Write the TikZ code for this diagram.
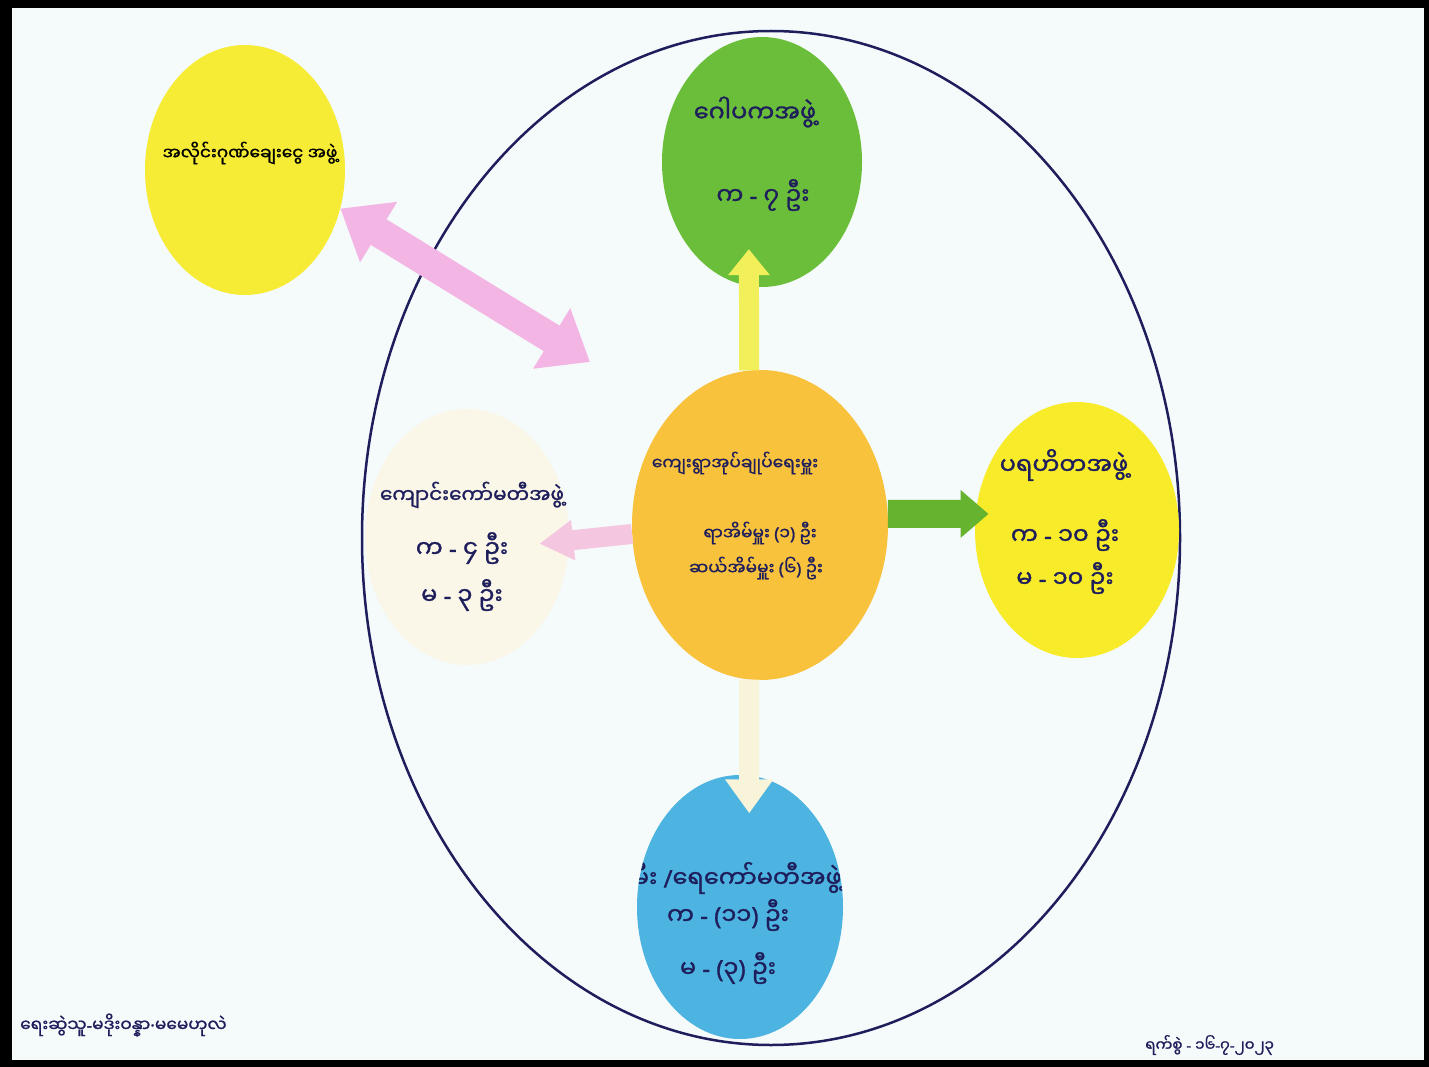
\documentclass[tikz,border=0pt]{standalone}
\usepackage{fontspec}
\newfontfamily\mya[Script=Myanmar,FakeBold=1.2]{Noto Sans Myanmar UI}
\newfontfamily\latfont[FakeBold=1.2]{Noto Sans}
\newcommand\lt[1]{{\latfont #1}}
\usetikzlibrary{arrows.meta,shapes.geometric}
\definecolor{paper}{HTML}{F5FAFB}
\definecolor{ink}{HTML}{1E1E5C}
\definecolor{cyel}{HTML}{F7EC35}
\definecolor{cgrn}{HTML}{6BBE3A}
\definecolor{corg}{HTML}{F8C23C}
\definecolor{cwht}{HTML}{FAF7E8}
\definecolor{ryel}{HTML}{F8EC2A}
\definecolor{cblu}{HTML}{4DB3E0}
\definecolor{apink}{HTML}{F3B5E4}
\definecolor{lpink}{HTML}{F5C6DF}
\definecolor{ayel}{HTML}{F2F05A}
\definecolor{agrn}{HTML}{66B32F}
\definecolor{acrm}{HTML}{F8F4DA}
\tikzset{
  blob/.style={ellipse, inner sep=0pt, draw=none},
  big/.style={text=ink, font=\mya\fontsize{24}{28}\selectfont, inner sep=0pt},
  mid/.style={text=ink, font=\mya\fontsize{20}{24}\selectfont, inner sep=0pt},
  small/.style={text=ink, font=\mya\fontsize{17}{20}\selectfont, inner sep=0pt},
  foot/.style={text=ink, font=\mya\fontsize{17}{20}\selectfont, inner sep=0pt}
}
\begin{document}
\begin{tikzpicture}[x=1pt,y=-1pt]
\fill[black] (0,0) rectangle (1429,1067);
\fill[paper] (12,8) rectangle (1424,1060);
\useasboundingbox (0,0) rectangle (1429,1067);

% outer ring
\node[ellipse, draw=ink, line width=2.5pt, minimum width=818pt, minimum height=1014pt, inner sep=0pt] (ring) at (771,538) {};

% circles
\node[blob, fill=cyel, minimum width=200pt, minimum height=250pt] (credit) at (245,170) {};
\node[blob, fill=cgrn, minimum width=200pt, minimum height=250pt] (gawpaka) at (762,162) {};
\node[blob, fill=corg, minimum width=256pt, minimum height=310pt] (admin) at (760,525) {};
\node[blob, fill=cwht, minimum width=204pt, minimum height=256pt] (school) at (467,537) {};
\node[blob, fill=ryel, minimum width=204pt, minimum height=256pt] (charity) at (1077,530) {};
\node[blob, fill=cblu, minimum width=206pt, minimum height=264pt] (water) at (740,907) {};

% arrows
\coordinate (pinkend) at (590,362);
\draw[apink, line width=30pt, {Triangle[width=68pt,length=45pt]}-{Triangle[width=68pt,length=45pt]}] (credit.-22) -- (pinkend);
\draw[ayel, line width=20pt, -{Triangle[width=40pt,length=26pt]}, shorten >=-37pt] (admin.94) -- (gawpaka.264);
\draw[agrn, line width=28pt, -{Triangle[width=46pt,length=28pt]}, shorten >=-13pt] (admin.5) -- (charity.171);
\draw[lpink, line width=20pt, -{Triangle[width=38pt,length=34pt]}, shorten >=-30pt] (admin.184) -- (school.358);
\draw[acrm, line width=20pt, -{Triangle[width=46pt,length=34pt]}, shorten >=-38pt] (admin.266) -- (water.86);

% texts
\node[small, text=black] (t1) at (250,153) {အလိုင်းဂုဏ်ချေးငွေ အဖွဲ့};
\node[big] (t2) at (755,112) {ဂေါပကအဖွဲ့};
\node[big] (t3) at (763,195) {က \lt{-} ၇ ဦး};
\node[small] (t4) at (735,463) {ကျေးရွာအုပ်ချုပ်ရေးမှူး};
\node[small] (t5) at (760,533) {ရာအိမ်မှူး \lt{(}၁\lt{)} ဦး};
\node[small] (t6) at (756,568) {ဆယ်အိမ်မှူး \lt{(}၆\lt{)} ဦး};
\node[mid] (t7) at (472,495) {ကျောင်းကော်မတီအဖွဲ့};
\node[big] (t8) at (462,548) {က \lt{-} ၄ ဦး};
\node[big] (t9) at (462,595) {မ \lt{-} ၃ ဦး};
\node[big] (t10) at (1064,465) {ပရဟိတအဖွဲ့};
\node[big] (t11) at (1065,535) {က \lt{-} ၁၀ ဦး};
\node[big] (t12) at (1065,578) {မ \lt{-} ၁၀ ဦး};
\begin{scope}
\clip (water.center) ellipse [x radius=103, y radius=132];
\node[big, anchor=east] (t13) at (842,878) {မီး \lt{/}ရေကော်မတီအဖွဲ့};
\end{scope}
\node[big] (t14) at (728,915) {က \lt{-} \lt{(}၁၁\lt{)} ဦး};
\node[big] (t15) at (728,968) {မ \lt{-} \lt{(}၃\lt{)} ဦး};
\node[foot, anchor=west] (t16) at (20,1025) {ရေးဆွဲသူ\lt{-}မဒိုးဝန္နာ\lt{·}မမေဟုလဲ};
\node[foot, anchor=west, font=\mya\fontsize{15}{18}\selectfont] (t17) at (1145,1045) {ရက်စွဲ \lt{-} ၁၆\lt{-}၇\lt{-}၂၀၂၃};
\end{tikzpicture}
\end{document}
